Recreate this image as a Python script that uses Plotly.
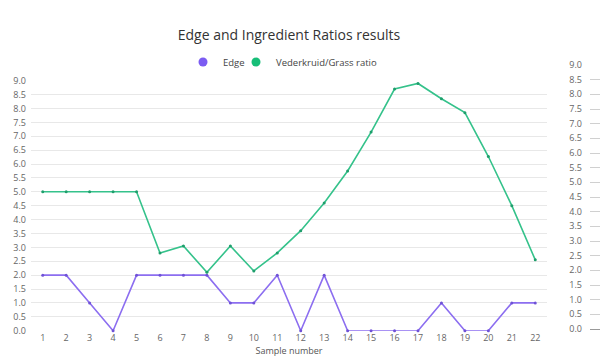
import plotly.graph_objects as go

# Sample numbers and measured series
samples = list(range(1, 23))
edge = [2, 2, 1, 0, 2, 2, 2, 2, 1, 1, 2, 0, 2, 0, 0, 0, 0, 1, 0, 0, 1, 1]
ratio = [5.0, 5.0, 5.0, 5.0, 5.0, 2.8, 3.05, 2.1, 3.05, 2.15, 2.8, 3.6, 4.6,
         5.75, 7.15, 8.7, 8.9, 8.35, 7.85, 6.27, 4.5, 2.55]
y_ticks = [i * 0.5 for i in range(19)]
y_ticktext = [f"{v:.1f}" for v in y_ticks]
side_tick = ["2"]

PURPLE = "#8c6ef0"
PURPLE_DARK = "#6f52d6"
GREEN = "#35c28b"
GREEN_DARK = "#1f9e6c"
FONT = "Open Sans"
TICK_COLOR = "#666666"
GRID = "#e8e8e8"

fig = go.Figure()

fig.add_trace(go.Scatter(
    x=samples, y=edge, mode="lines+markers", name="Edge", showlegend=False,
    line=dict(color=PURPLE, width=1.6),
    marker=dict(color=PURPLE_DARK, size=3), cliponaxis=False))
fig.add_trace(go.Scatter(
    x=samples, y=ratio, mode="lines+markers", name="Vederkruid/Grass ratio",
    showlegend=False,
    line=dict(color=GREEN, width=1.6),
    marker=dict(color=GREEN_DARK, size=3), cliponaxis=False))

# legend entries drawn as plain dots, one legend box per series
fig.add_trace(go.Scatter(x=[None], y=[None], mode="markers", name="Edge",
                         legend="legend",
                         marker=dict(color="#7b5cf2", size=9)))
fig.add_trace(go.Scatter(x=[None], y=[None], mode="markers",
                         name="Vederkruid/Grass ratio", legend="legend2",
                         marker=dict(color="#17be78", size=9)))

# neighbouring panel's value axis at the right edge
fig.add_trace(go.Scatter(x=[None], y=[None], xaxis="x2", yaxis="y2",
                         showlegend=False, hoverinfo="skip"))

legend_style = dict(orientation="h", xanchor="left",
                    y=1 - 62 / 360, yanchor="middle",
                    font=dict(family=FONT, size=9.5, color="#444444"),
                    itemwidth=30, bgcolor="rgba(0,0,0,0)")

fig.update_layout(
    width=600, height=360,
    margin=dict(l=0, r=0, t=0, b=0),
    paper_bgcolor="white", plot_bgcolor="white",
    font=dict(family=FONT, color=TICK_COLOR, size=9),
    title=dict(text="Edge and Ingredient Ratios results",
               x=289 / 600, xanchor="center", y=1 - 35 / 360, yanchor="middle",
               font=dict(family=FONT, size=14, color="#333333")),
    legend=dict(legend_style, x=183 / 600),
    legend2=dict(legend_style, x=236 / 600),
    xaxis=dict(domain=[31 / 600, 547 / 600], range=[0.5, 22.5],
               tickmode="array", tickvals=samples,
               ticktext=[str(s) for s in samples],
               showgrid=False, zeroline=False, showline=False, ticks="",
               tickfont=dict(size=9, color=TICK_COLOR),
               title=dict(text="Sample number", standoff=4,
                          font=dict(size=9, color="#555555")),
               automargin=False, anchor="y"),
    yaxis=dict(domain=[(360 - 330.7) / 360, (360 - 80.7) / 360],
               range=[0, 9], tickmode="array", tickvals=y_ticks,
               ticktext=y_ticktext, showgrid=True, gridcolor=GRID,
               gridwidth=1, zeroline=False, showline=False, ticks="",
               ticklabelstandoff=4,
               tickfont=dict(size=9, color=TICK_COLOR),
               automargin=False, anchor="x"),
    xaxis2=dict(domain=[590 / 600, 1.0], range=[0, 1.2],
                tickmode="array", tickvals=[1], ticktext=side_tick,
                showgrid=False, zeroline=False, showline=True,
                linecolor="#999999", linewidth=1, ticks="",
                tickfont=dict(size=9, color=TICK_COLOR),
                automargin=False, anchor="y2"),
    yaxis2=dict(domain=[(360 - 329) / 360, (360 - 65) / 360],
                range=[0, 9], tickmode="array", tickvals=y_ticks,
                ticktext=y_ticktext, showgrid=True, gridcolor="#d0d0d0",
                zeroline=False, showline=False, ticks="",
                ticklabelstandoff=7,
                tickfont=dict(size=9, color=TICK_COLOR),
                automargin=False, anchor="x2"),
)

fig.write_html("out.html")
